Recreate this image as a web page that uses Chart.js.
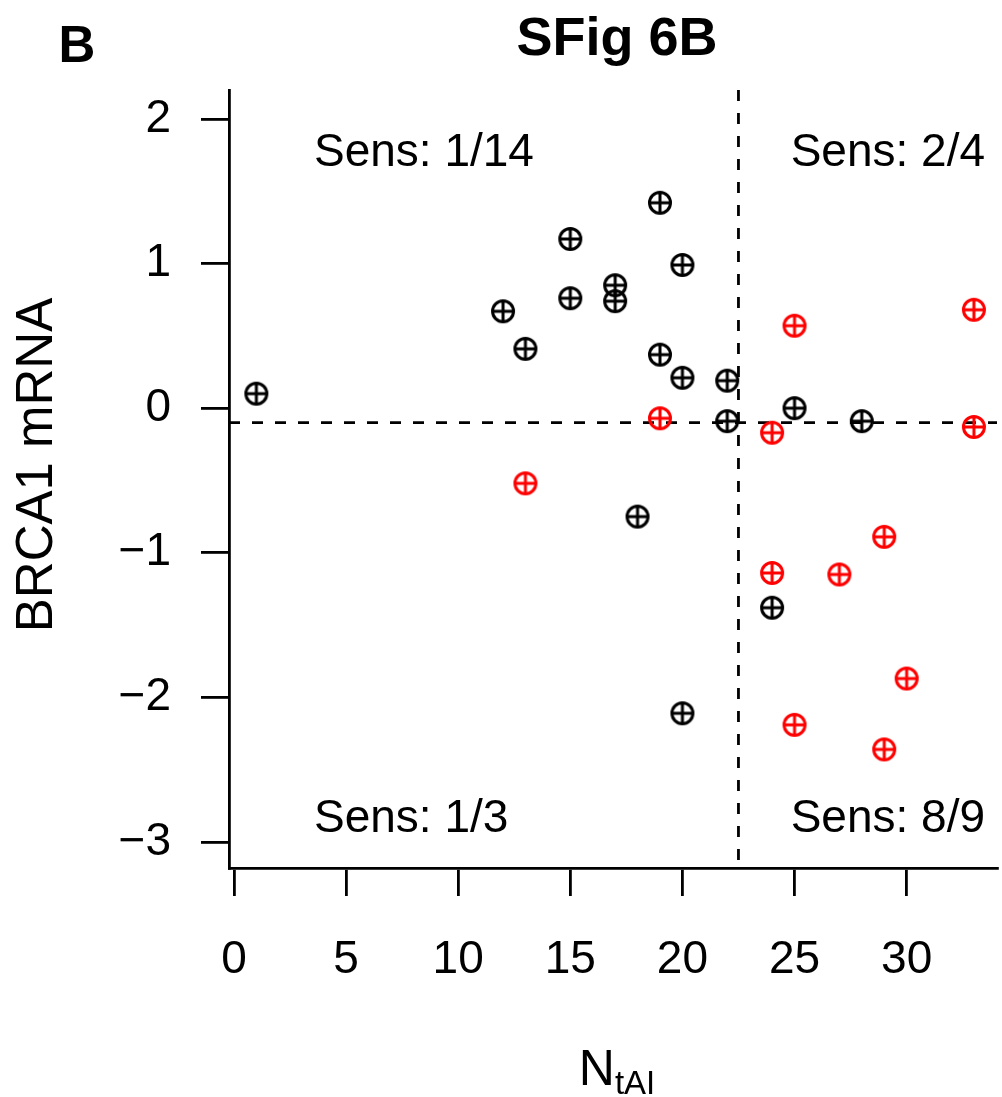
<!DOCTYPE html>
<html>
<head>
<meta charset="utf-8">
<script src="https://cdn.jsdelivr.net/npm/chart.js@4.4.1/dist/chart.umd.min.js"></script>
<style>
  html, body { margin: 0; padding: 0; background: #fff; }
  #wrap { width: 1002px; height: 1097px; }
</style>
</head>
<body>
<div id="wrap"><canvas id="my-chart" width="1002" height="1097"></canvas></div>
<script>
"use strict";
// points (N_tAI vs BRCA1 mRNA)
const blackX = [1, 12, 13, 15, 15, 17, 17, 19, 19, 20, 20, 22, 22, 18, 20, 25, 28, 24];
const blackY = [0.10, 0.67, 0.41, 1.17, 0.76, 0.85, 0.74, 1.42, 0.37, 0.99, 0.21, 0.19, -0.09, -0.75, -2.11, 0.00, -0.09, -1.38];
const redX = [19, 13, 25, 33, 24, 33, 29, 24, 27, 30, 25, 29];
const redY = [-0.07, -0.52, 0.57, 0.68, -0.17, -0.13, -0.89, -1.14, -1.15, -1.87, -2.19, -2.36];

const xTicks = [0, 5, 10, 15, 20, 25, 30];
const yTicks = [-3, -2, -1, 0, 1, 2];
const cutX = 22.5;
const cutY = -0.1;
const sensLabels = ["Sens: 1/14", "Sens: 2/4", "Sens: 1/3", "Sens: 8/9"];

const FONT = "'Liberation Sans', Arial, Helvetica, sans-serif";

// circle with a plus inside (like R pch = 10)
function makeMarker(color) {
  const c = document.createElement("canvas");
  c.width = 28;
  c.height = 28;
  const g = c.getContext("2d");
  g.strokeStyle = color;
  g.lineWidth = 3;
  g.beginPath();
  g.arc(14, 14, 10.5, 0, Math.PI * 2);
  g.moveTo(3.5, 14);
  g.lineTo(24.5, 14);
  g.moveTo(14, 3.5);
  g.lineTo(14, 24.5);
  g.stroke();
  return c;
}

function toPoints(xs, ys) {
  const pts = [];
  for (let i = 0; i < xs.length; i++) {
    pts.push({ x: xs[i], y: ys[i] });
  }
  return pts;
}

const extras = {
  id: "extras",
  beforeDatasetsDraw(chart) {
    const ctx = chart.ctx;
    const xs = chart.scales.x;
    const ys = chart.scales.y;
    const area = chart.chartArea;
    ctx.save();
    ctx.strokeStyle = "#000";
    ctx.lineWidth = 2.8;
    ctx.setLineDash([11, 12]);
    const px = xs.getPixelForValue(cutX);
    ctx.beginPath();
    ctx.moveTo(px, area.top);
    ctx.lineTo(px, area.bottom);
    ctx.stroke();
    const py = ys.getPixelForValue(cutY);
    ctx.beginPath();
    ctx.moveTo(area.left, py);
    ctx.lineTo(area.right, py);
    ctx.stroke();
    ctx.restore();
  },
  afterDraw(chart) {
    const ctx = chart.ctx;
    ctx.save();
    ctx.fillStyle = "#000";
    ctx.textBaseline = "alphabetic";

    // title and panel letter
    ctx.font = "bold 54px " + FONT;
    ctx.textAlign = "center";
    ctx.fillText("SFig 6B", 617, 55);
    ctx.font = "bold 51px " + FONT;
    ctx.fillText("B", 77, 62);

    // quadrant labels
    ctx.font = "46px " + FONT;
    ctx.textAlign = "left";
    ctx.fillText(sensLabels[0], 314, 166);
    ctx.fillText(sensLabels[2], 314, 832);
    ctx.textAlign = "right";
    ctx.fillText(sensLabels[1], 985, 166);
    ctx.fillText(sensLabels[3], 985, 832);

    // y axis title
    ctx.save();
    ctx.translate(52, 465);
    ctx.rotate(-Math.PI / 2);
    ctx.textAlign = "center";
    ctx.font = "51px " + FONT;
    ctx.fillText("BRCA1 mRNA", 0, 0);
    ctx.restore();

    // x axis title with subscript
    ctx.textAlign = "left";
    ctx.font = "50px " + FONT;
    const main = "N";
    const sub = "tAI";
    const wMain = ctx.measureText(main).width;
    ctx.font = "33px " + FONT;
    const wSub = ctx.measureText(sub).width;
    const x0 = 617 - (wMain + wSub) / 2;
    ctx.font = "50px " + FONT;
    ctx.fillText(main, x0, 1085);
    ctx.font = "33px " + FONT;
    ctx.fillText(sub, x0 + wMain, 1094);
    ctx.restore();
  },
};

const ctx = document.getElementById("my-chart");
const myChart = new Chart(ctx, {
  type: "scatter",
  data: {
    datasets: [
      {
        label: "black",
        data: toPoints(blackX, blackY),
        pointStyle: makeMarker("#000000"),
      },
      {
        label: "red",
        data: toPoints(redX, redY),
        pointStyle: makeMarker("#ff0000"),
      },
    ],
  },
  options: {
    responsive: false,
    animation: false,
    clip: false,
    layout: { padding: { top: 90, right: 0, left: 0, bottom: 0 } },
    plugins: {
      legend: { display: false },
      tooltip: { enabled: false },
      title: { display: false },
    },
    scales: {
      x: {
        type: "linear",
        min: -0.22,
        max: 34.03,
        afterBuildTicks: (scale) => {
          scale.ticks = xTicks.map((v) => ({ value: v }));
        },
        afterFit: (scale) => {
          scale.height = 229;
        },
        border: { display: true, color: "#000", width: 2.8 },
        grid: {
          drawOnChartArea: false,
          drawTicks: true,
          tickLength: 28,
          color: "#000",
          lineWidth: 2.8,
        },
        ticks: {
          color: "#000",
          font: { family: FONT, size: 46 },
          padding: 37,
          maxRotation: 0,
          autoSkip: false,
        },
      },
      y: {
        type: "linear",
        min: -3.18,
        max: 2.2,
        afterBuildTicks: (scale) => {
          scale.ticks = yTicks.map((v) => ({ value: v }));
        },
        afterFit: (scale) => {
          scale.width = 229;
        },
        border: { display: true, color: "#000", width: 2.8 },
        grid: {
          drawOnChartArea: false,
          drawTicks: true,
          tickLength: 28,
          color: "#000",
          lineWidth: 2.8,
        },
        ticks: {
          color: "#000",
          font: { family: FONT, size: 46 },
          padding: 30,
          autoSkip: false,
          callback: (v) => (v < 0 ? "\u2212" + Math.abs(v) : String(v)),
        },
      },
    },
  },
  plugins: [extras],
});
</script>
</body>
</html>
